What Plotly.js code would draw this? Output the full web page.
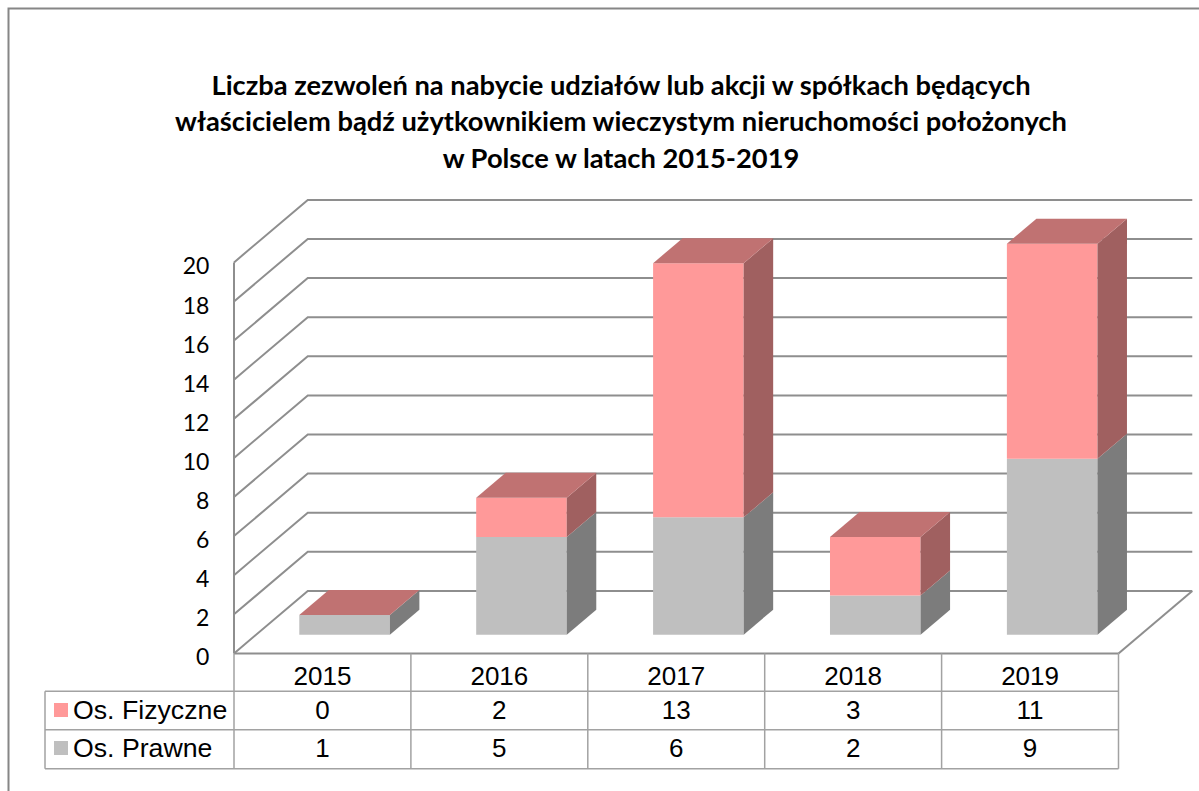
<!DOCTYPE html>
<html>
<head>
<meta charset="utf-8">
<script src="https://cdn.plot.ly/plotly-3.0.1.min.js"></script>
<style>html,body{margin:0;padding:0;background:#fff}#chart{width:1199px;height:791px}</style>
</head>
<body>
<div id="chart"></div>
<script>
// ---- data ----
const categories = ['2015', '2016', '2017', '2018', '2019'];
const osPrawne = [1, 5, 6, 2, 9];
const osFizyczne = [0, 2, 13, 3, 11];
const seriesPrawneName = 'Os. Prawne';
const seriesFizyczneName = 'Os. Fizyczne';
const yTicks = [0, 2, 4, 6, 8, 10, 12, 14, 16, 18, 20];
const titleLines = [
  'Liczba zezwoleń na nabycie udziałów lub akcji w spółkach będących',
  'właścicielem bądź użytkownikiem wieczystym nieruchomości położonych',
  'w Polsce w latach 2015-2019'
];

// ---- geometry ----
const W = 1199, H = 791;
const x0Px = 234, xUnit = 176.9, y0Px = 653.4, yUnit = 19.55;
const depthX = 0.417, depthY = 3.197;          // wall depth in axis units
const zFront = 0.3, zBack = 0.7, barW = 0.512; // bar placement inside the depth
const colours = {
  pink: '#FF9999', pinkTop: '#C07272', pinkSide: '#A06060',
  grey: '#BFBFBF', greySide: '#7C7C7C', grid: '#8E8E8E', table: '#A2A2A2', frame: '#868686'
};
const yPx = p => (y0Px - p) / yUnit;  // pixel row -> axis value (for table rows only)
const xPx = p => (p - x0Px) / xUnit;
const rowFiz = yPx(710), rowPra = yPx(748);
const rowFizText = yPx(712.5), rowPraText = yPx(750.5);
const rowLines = [yPx(691.2), yPx(729.8), yPx(768.8)];
const tableLeft = xPx(45);

const X = (x, z) => x + z * depthX;
const Y = (v, z) => v + z * depthY;

// ---- walls, floor, table as shapes underneath the bars ----
const shapes = [];
const line = (pts, color, width) => shapes.push({
  type: 'path', layer: 'below', xref: 'x', yref: 'y',
  path: pts.map((p, i) => (i ? 'L' : 'M') + p[0] + ',' + p[1]).join(' '),
  line: {color, width}
});
yTicks.forEach(v => line([[0, v], [X(0, 1), Y(v, 1)], [X(5, 1), Y(v, 1)]], colours.grid, 2));
line([[0, 0], [0, 20]], colours.grid, 2);
line([[0, 0], [5, 0]], colours.grid, 2);
line([[5, 0], [X(5, 1), Y(0, 1)]], colours.grid, 2);
rowLines.forEach(r => line([[tableLeft, r], [5, r]], colours.table, 1.5));
line([[tableLeft, rowLines[0]], [tableLeft, rowLines[2]]], colours.table, 1.5);
[0, 1, 2, 3, 4, 5].forEach(i => line([[i, 0], [i, rowLines[2]]], colours.table, 1.5));
shapes.push({
  type: 'path', xref: 'paper', yref: 'paper', layer: 'below',
  path: `M${8.5 / W},0 L${8.5 / W},${1 - 8.5 / H} L1,${1 - 8.5 / H}`,
  line: {color: colours.frame, width: 2}
});

// ---- traces ----
const centre = categories.map((_, i) => X(i + 0.5, zFront));
const traces = [
  {type: 'bar', name: seriesPrawneName, x: centre, y: osPrawne,
   base: osPrawne.map(() => Y(0, zFront)), width: barW,
   marker: {color: colours.grey, line: {width: 0}}, hoverinfo: 'name+text', text: osPrawne, textposition: 'none'},
  {type: 'bar', name: seriesFizyczneName, x: centre, y: osFizyczne,
   base: osPrawne.map(v => Y(v, zFront)), width: barW,
   marker: {color: colours.pink, line: {width: 0}}, hoverinfo: 'name+text', text: osFizyczne, textposition: 'none'}
];
const poly = (pts, color) => traces.push({
  type: 'scatter', mode: 'lines', x: pts.map(p => p[0]), y: pts.map(p => p[1]),
  fill: 'toself', fillcolor: color, line: {width: 0, color}, hoverinfo: 'skip', showlegend: false
});
categories.forEach((_, i) => {
  const l = i + 0.5 - barW / 2, r = i + 0.5 + barW / 2;
  const a = osPrawne[i], b = a + osFizyczne[i];
  const side = (v0, v1, c) => poly([
    [X(r, zFront), Y(v0, zFront)], [X(r, zBack), Y(v0, zBack)],
    [X(r, zBack), Y(v1, zBack)], [X(r, zFront), Y(v1, zFront)]], c);
  side(0, a, colours.greySide);
  if (b > a) side(a, b, colours.pinkSide);
  poly([[X(l, zFront), Y(b, zFront)], [X(r, zFront), Y(b, zFront)],
        [X(r, zBack), Y(b, zBack)], [X(l, zBack), Y(b, zBack)]], colours.pinkTop);
});
const tableFont = {family: '"Liberation Sans", Arial, sans-serif', size: 26, color: '#000'};
const legendFont = {family: '"Liberation Sans", Arial, sans-serif', size: 26.7, color: '#000'};
const mids = categories.map((_, i) => i + 0.5);
traces.push(
  {type: 'scatter', mode: 'text', x: mids, y: mids.map(() => rowFizText), text: osFizyczne.map(String),
   textposition: 'middle center', textfont: tableFont, hoverinfo: 'skip'},
  {type: 'scatter', mode: 'text', x: mids, y: mids.map(() => rowPraText), text: osPrawne.map(String),
   textposition: 'middle center', textfont: tableFont, hoverinfo: 'skip'},
  {type: 'scatter', mode: 'markers', x: [xPx(61)], y: [rowFiz],
   marker: {symbol: 'square', size: 14, color: colours.pink, line: {width: 0}}, hoverinfo: 'skip'},
  {type: 'scatter', mode: 'markers', x: [xPx(61)], y: [rowPra],
   marker: {symbol: 'square', size: 14, color: colours.grey, line: {width: 0}}, hoverinfo: 'skip'}
);

const legendLabel = (text, row) => ({
  xref: 'x', yref: 'y', x: xPx(71), y: row, xanchor: 'left', yanchor: 'middle',
  text, showarrow: false, font: legendFont
});

const layout = {
  width: W, height: H,
  margin: {l: 0, r: 0, t: 0, b: 0, pad: 0},
  paper_bgcolor: '#fff', plot_bgcolor: 'rgba(0,0,0,0)',
  showlegend: false, barmode: 'overlay',
  title: {
    text: titleLines.map(t => `<span style="font-size:27.3px">${t}</span>`).join('<br>'),
    font: {family: 'Lato, sans-serif', size: 28, color: '#000', weight: 700},
    x: 621 / W, xanchor: 'center', y: 1 - 95 / H, yanchor: 'top'
  },
  xaxis: {
    range: [xPx(0), xPx(W)], anchor: 'free', position: (H - y0Px) / H,
    tickmode: 'array', tickvals: mids, ticktext: categories,
    tickfont: tableFont, ticks: '', ticklabelstandoff: 5,
    showgrid: false, zeroline: false, showline: false, fixedrange: true
  },
  yaxis: {
    range: [yPx(H), yPx(0)], anchor: 'free', position: x0Px / W,
    tickmode: 'array', tickvals: yTicks, ticktext: yTicks.map(String),
    tickfont: {family: 'Lato, sans-serif', size: 23, color: '#000'},
    ticks: 'outside', ticklen: 20, tickcolor: 'rgba(0,0,0,0)', ticklabelshift: 4,
    showgrid: false, zeroline: false, showline: false, fixedrange: true
  },
  shapes,
  annotations: [legendLabel(seriesFizyczneName, rowFiz), legendLabel(seriesPrawneName, rowPra)]
};
Plotly.newPlot('chart', traces, layout, {displayModeBar: false, responsive: false});
</script>
</body>
</html>
